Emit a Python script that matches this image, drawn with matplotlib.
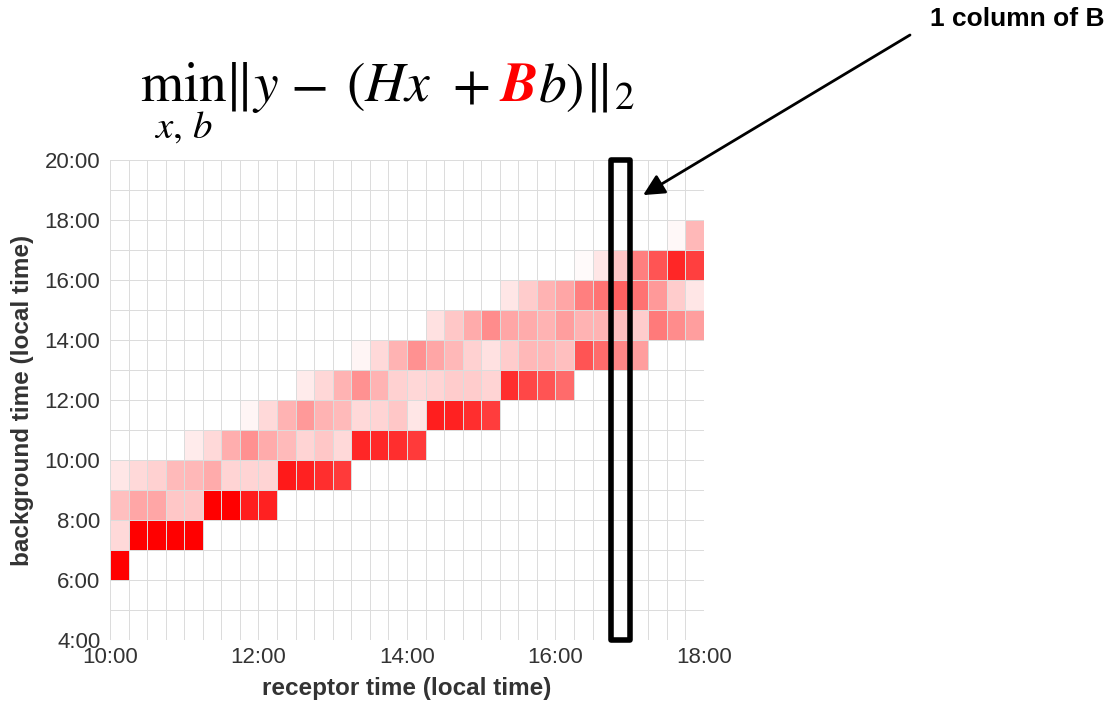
import numpy as np
import matplotlib
matplotlib.use("Agg")
import matplotlib.pyplot as plt
from matplotlib.colors import LinearSegmentedColormap
from matplotlib.patches import Rectangle

plt.rcParams['font.family'] = ['Liberation Sans', 'DejaVu Sans']
plt.rcParams['mathtext.fontset'] = 'stix'

# receptor time: 15 min columns from 10:00 to 18:00, background time: 1 h rows from 4:00 to 20:00
receptor_start, receptor_step, n_cols = 10.0, 0.25, 32
background_hours = np.arange(4, 21)
x_ticks = [10, 12, 14, 16, 18]
x_ticklabels = ["10:00", "12:00", "14:00", "16:00", "18:00"]
y_ticks = [4, 6, 8, 10, 12, 14, 16, 18, 20]
y_ticklabels = ["4:00", "6:00", "8:00", "10:00", "12:00", "14:00", "16:00", "18:00", "20:00"]

# (background hour) -> (first column, weights)
row_06 = (0, [1.0])
row_07 = (0, [0.15, 1.0, 1.0, 1.0, 1.0])
row_08 = (0, [0.25, 0.35, 0.35, 0.22, 0.22, 1.0, 1.0, 0.88, 0.87])
row_09 = (0, [0.1, 0.15, 0.18, 0.27, 0.28, 0.33, 0.17, 0.17, 0.17, 0.9, 0.87, 0.82, 0.77])
row_10 = (4, [0.08, 0.15, 0.32, 0.43, 0.33, 0.27, 0.17, 0.22, 0.15, 0.85, 0.84, 0.82, 0.77])
row_11 = (7, [0.04, 0.15, 0.3, 0.4, 0.3, 0.27, 0.15, 0.17, 0.22, 0.1, 0.88, 0.87, 0.82, 0.76])
row_12 = (10, [0.08, 0.16, 0.3, 0.43, 0.3, 0.18, 0.16, 0.17, 0.2, 0.2, 0.17, 0.82, 0.72, 0.67, 0.58])
row_13 = (13, [0.04, 0.15, 0.3, 0.43, 0.35, 0.28, 0.18, 0.12, 0.2, 0.28, 0.28, 0.25, 0.67, 0.58, 0.47, 0.38])
row_14 = (17, [0.12, 0.22, 0.33, 0.45, 0.35, 0.33, 0.3, 0.38, 0.3, 0.3, 0.25, 0.2, 0.52, 0.45, 0.38])
row_15 = (21, [0.1, 0.2, 0.3, 0.35, 0.5, 0.55, 0.62, 0.55, 0.4, 0.2, 0.1])
row_16 = (25, [0.02, 0.1, 0.22, 0.5, 0.67, 0.85, 0.75])
row_17 = (30, [0.03, 0.28])
rows = {6: row_06, 7: row_07, 8: row_08, 9: row_09, 10: row_10, 11: row_11,
        12: row_12, 13: row_13, 14: row_14, 15: row_15, 16: row_16, 17: row_17}

highlight_col = 27

B = np.zeros((len(background_hours) - 1, n_cols))
for hour, (c0, w) in rows.items():
    B[hour - background_hours[0], c0:c0 + len(w)] = w

x_edges = receptor_start + receptor_step * np.arange(n_cols + 1)

fig = plt.figure(figsize=(11.08, 7.04), dpi=100)
ax = fig.add_axes([110 / 1108, 64 / 704, 594 / 1108, 480 / 704])

cmap = LinearSegmentedColormap.from_list("wr", ["#ffffff", "#ff0000"])
ax.pcolormesh(x_edges, background_hours, B, cmap=cmap, vmin=0, vmax=1,
              edgecolors="#dcdcdc", linewidth=0.6)
ax.set_xlim(x_edges[0], x_edges[-1])
ax.set_ylim(background_hours[0], background_hours[-1])
for s in ax.spines.values():
    s.set_visible(False)

ax.set_xticks(x_ticks)
ax.set_xticklabels(x_ticklabels)
ax.set_yticks(y_ticks)
ax.set_yticklabels(y_ticklabels)
ax.tick_params(axis='both', length=0, labelsize=16, labelcolor="#333333")
ax.tick_params(axis='x', pad=5)
ax.tick_params(axis='y', pad=7)

ax.set_xlabel("receptor time (local time)", fontsize=17.5, fontweight='bold', color="#333333")
ax.set_ylabel("background time (local time)", fontsize=17.5, fontweight='bold', color="#333333")
ax.xaxis.set_label_coords(0.5, -0.077)
ax.yaxis.set_label_coords(-0.128, 0.5)

# box around one column of B
x_hl = x_edges[highlight_col]
ax.add_patch(Rectangle((x_hl, background_hours[0]), receptor_step, background_hours[-1] - background_hours[0],
                       fill=False, ec="black", lw=4, joinstyle='round', clip_on=False, zorder=5))

ax.annotate("", xy=(17.18, 18.83), xytext=(910, 704 - 35), textcoords='figure pixels',
            arrowprops=dict(arrowstyle='-|>', color='black', lw=2, mutation_scale=32,
                            shrinkA=0, shrinkB=0))
fig.text(1104 / 1108, 1 - 19 / 704, "1 column of B", ha='right', va='center',
         fontsize=19, fontweight='bold')

# equation min ||y - (Hx + Bb)||_2, pieces placed along one baseline, B in red
fs = 40
y0 = 1 - 101 / 704
eq_pieces = [(140, r"$\min_{x,\,b}$", 'black'),
             (224, r"$\Vert y$", 'black'),
             (290, r"$-$", 'black'),
             (346, r"$(Hx$", 'black'),
             (452, r"$+$", 'black')]
for px, s, c in eq_pieces:
    fig.text(px / 1108, y0, s, fontsize=fs, ha='left', va='baseline', color=c)
fig.text(500 / 1108, y0, "B", fontsize=fs, ha='left', va='baseline', color='red',
         family='STIXGeneral', fontweight='bold', style='italic')
fig.text(538 / 1108, y0, r"$b)\Vert_2$", fontsize=fs, ha='left', va='baseline')

fig.savefig("out.png", dpi=100)
